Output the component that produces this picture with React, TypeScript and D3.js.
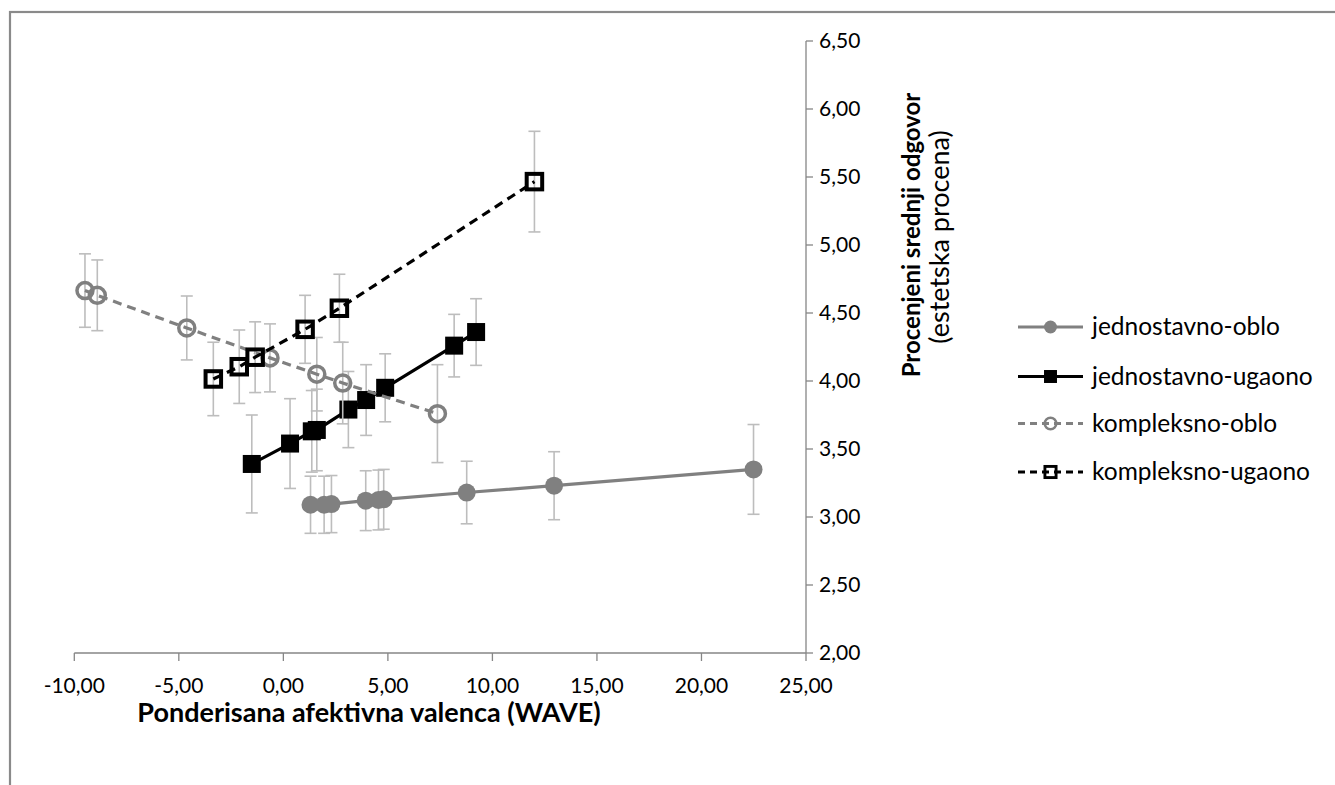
import React from "react";
import * as d3 from "d3";

// WAVE (x), estimated mean response (y) and error half-widths per condition
const jednostavnoObloX = [1.3, 1.95, 2.3, 3.94, 4.55, 4.8, 8.77, 12.95, 22.49];
const jednostavnoObloY = [3.09, 3.09, 3.095, 3.12, 3.125, 3.13, 3.18, 3.23, 3.35];
const jednostavnoObloErr = [0.21, 0.21, 0.21, 0.22, 0.22, 0.22, 0.23, 0.25, 0.33];

const jednostavnoUgaonoX = [-1.51, 0.32, 1.36, 1.6, 3.11, 3.96, 4.87, 8.17, 9.22];
const jednostavnoUgaonoY = [3.39, 3.54, 3.63, 3.64, 3.79, 3.86, 3.95, 4.26, 4.36];
const jednostavnoUgaonoErr = [0.36, 0.33, 0.3, 0.3, 0.28, 0.26, 0.25, 0.23, 0.245];

const kompleksnoObloX = [-9.49, -8.9, -4.62, -0.64, 1.6, 2.84, 7.37];
const kompleksnoObloY = [4.665, 4.63, 4.39, 4.17, 4.05, 3.985, 3.76];
const kompleksnoObloErr = [0.27, 0.26, 0.235, 0.25, 0.27, 0.3, 0.36];

const kompleksnoUgaonoX = [-3.35, -2.11, -1.35, 1.04, 2.68, 12.01];
const kompleksnoUgaonoY = [4.015, 4.105, 4.175, 4.38, 4.535, 5.466];
const kompleksnoUgaonoErr = [0.27, 0.27, 0.26, 0.25, 0.25, 0.37];

const seriesNames = ["jednostavno-oblo", "jednostavno-ugaono", "kompleksno-oblo", "kompleksno-ugaono"];

const xTicks = [-10, -5, 0, 5, 10, 15, 20, 25];
const yTicks = [2, 2.5, 3, 3.5, 4, 4.5, 5, 5.5, 6, 6.5];

const xTitle = "Ponderisana afektivna valenca (WAVE)";
const yTitle = "Procenjeni srednji odgovor";
const ySubtitle = "(estetska procena)";

type Style = {
  color: string;
  dash: string | null;
  marker: "circle" | "square";
  filled: boolean;
};

const styles: Style[] = [
  { color: "#808080", dash: null, marker: "circle", filled: true },
  { color: "#000000", dash: null, marker: "square", filled: true },
  { color: "#808080", dash: "9,6", marker: "circle", filled: false },
  { color: "#000000", dash: "9,6", marker: "square", filled: false },
];

const FONT = "Lato, 'Open Sans', sans-serif";
// two decimals, comma as decimal separator, plain hyphen for negatives
const fmt = (v: number) => v.toFixed(2).replace(".", ",");

function Marker({ x, y, s, scale = 1 }: { x: number; y: number; s: Style; scale?: number }) {
  if (s.marker === "circle") {
    return s.filled ? (
      <circle cx={x} cy={y} r={9 * scale} fill={s.color} />
    ) : (
      <circle cx={x} cy={y} r={8 * scale} fill="none" stroke={s.color} strokeWidth={3.5 * scale} />
    );
  }
  if (s.filled) {
    const a = 18 * scale;
    return <rect x={x - a / 2} y={y - a / 2} width={a} height={a} fill={s.color} />;
  }
  const a = 15.5 * scale;
  return <rect x={x - a / 2} y={y - a / 2} width={a} height={a} fill="none" stroke={s.color} strokeWidth={4 * scale} />;
}

export default function App() {
  const width = 1335;
  const height = 785;

  const x = d3.scaleLinear().domain([-10, 25]).range([74.3, 806]);
  const y = d3.scaleLinear().domain([2, 6.5]).range([653, 41]);

  const series = [
    { xs: jednostavnoObloX, ys: jednostavnoObloY, es: jednostavnoObloErr },
    { xs: jednostavnoUgaonoX, ys: jednostavnoUgaonoY, es: jednostavnoUgaonoErr },
    { xs: kompleksnoObloX, ys: kompleksnoObloY, es: kompleksnoObloErr },
    { xs: kompleksnoUgaonoX, ys: kompleksnoUgaonoY, es: kompleksnoUgaonoErr },
  ].map((d, i) => ({
    ...d,
    name: seriesNames[i],
    style: styles[i],
    points: d.xs.map((xv, j) => ({ x: xv, y: d.ys[j], e: d.es[j] })),
  }));

  const line = d3
    .line<{ x: number; y: number }>()
    .x((d) => x(d.x))
    .y((d) => y(d.y));

  const axisColor = "#868686";
  const legendX0 = 1018;
  const legendX1 = 1083;
  const legendYs = [327, 376.5, 423.5, 472];

  return (
    <svg
      width={width}
      height={height}
      style={{ position: "absolute", left: 0, top: 0, background: "#fff" }}
      fontFamily={FONT}
    >
      <rect x={0} y={0} width={width} height={height} fill="#fff" />
      {/* chart frame, running off the right and bottom edges */}
      <rect x={10} y={12} width={width + 20} height={height + 20} fill="none" stroke="#8a8a8a" strokeWidth={2.2} />

      {/* x axis */}
      <line x1={x(-10)} x2={x(25)} y1={y(2)} y2={y(2)} stroke={axisColor} strokeWidth={1.3} />
      {xTicks.map((t) => (
        <g key={"xt" + t}>
          <line x1={x(t)} x2={x(t)} y1={y(2)} y2={y(2) + 8} stroke={axisColor} strokeWidth={1.3} />
          <text x={x(t)} y={y(2) + 40} textAnchor="middle" fontSize={21} fill="#000">
            {fmt(t)}
          </text>
        </g>
      ))}
      <text x={369} y={722} textAnchor="middle" fontSize={27} fontWeight="bold" fill="#000">
        {xTitle}
      </text>

      {/* y axis on the right */}
      <line x1={x(25)} x2={x(25)} y1={y(2)} y2={y(6.5)} stroke={axisColor} strokeWidth={1.3} />
      {yTicks.map((t) => (
        <g key={"yt" + t}>
          <line x1={x(25)} x2={x(25) + 7} y1={y(t)} y2={y(t)} stroke={axisColor} strokeWidth={1.3} />
          <text x={x(25) + 13} y={y(t) + 7} textAnchor="start" fontSize={21} fill="#000">
            {fmt(t)}
          </text>
        </g>
      ))}
      <text
        transform={`translate(920,235) rotate(-90)`}
        textAnchor="middle"
        fontSize={24}
        fontWeight="bold"
        fill="#000"
      >
        {yTitle}
      </text>
      <text transform={`translate(949,237) rotate(-90)`} textAnchor="middle" fontSize={27} fill="#000">
        {ySubtitle}
      </text>

      {/* series: error bars, line, markers */}
      {series.map((s) => (
        <g key={s.name}>
          {s.points.map((p, j) => (
            <g key={"e" + j} stroke="#bdbdbd" strokeWidth={1.6}>
              <line x1={x(p.x)} x2={x(p.x)} y1={y(p.y + p.e)} y2={y(p.y - p.e)} />
              <line x1={x(p.x) - 6} x2={x(p.x) + 6} y1={y(p.y + p.e)} y2={y(p.y + p.e)} />
              <line x1={x(p.x) - 6} x2={x(p.x) + 6} y1={y(p.y - p.e)} y2={y(p.y - p.e)} />
            </g>
          ))}
          <path
            d={line(s.points) ?? ""}
            fill="none"
            stroke={s.style.color}
            strokeWidth={3.2}
            strokeDasharray={s.style.dash ?? undefined}
          />
          {s.points.map((p, j) => (
            <Marker key={"m" + j} x={x(p.x)} y={y(p.y)} s={s.style} />
          ))}
        </g>
      ))}

      {/* legend */}
      {series.map((s, i) => (
        <g key={"lg" + i}>
          <line
            x1={legendX0}
            x2={legendX1}
            y1={legendYs[i]}
            y2={legendYs[i]}
            stroke={s.style.color}
            strokeWidth={3.2}
            strokeDasharray={s.style.dash ? "7,5" : undefined}
          />
          <Marker x={(legendX0 + legendX1) / 2} y={legendYs[i]} s={s.style} scale={0.72} />
          <text x={1092} y={legendYs[i] + 8} fontSize={24.5} fill="#000">
            {s.name}
          </text>
        </g>
      ))}
    </svg>
  );
}
